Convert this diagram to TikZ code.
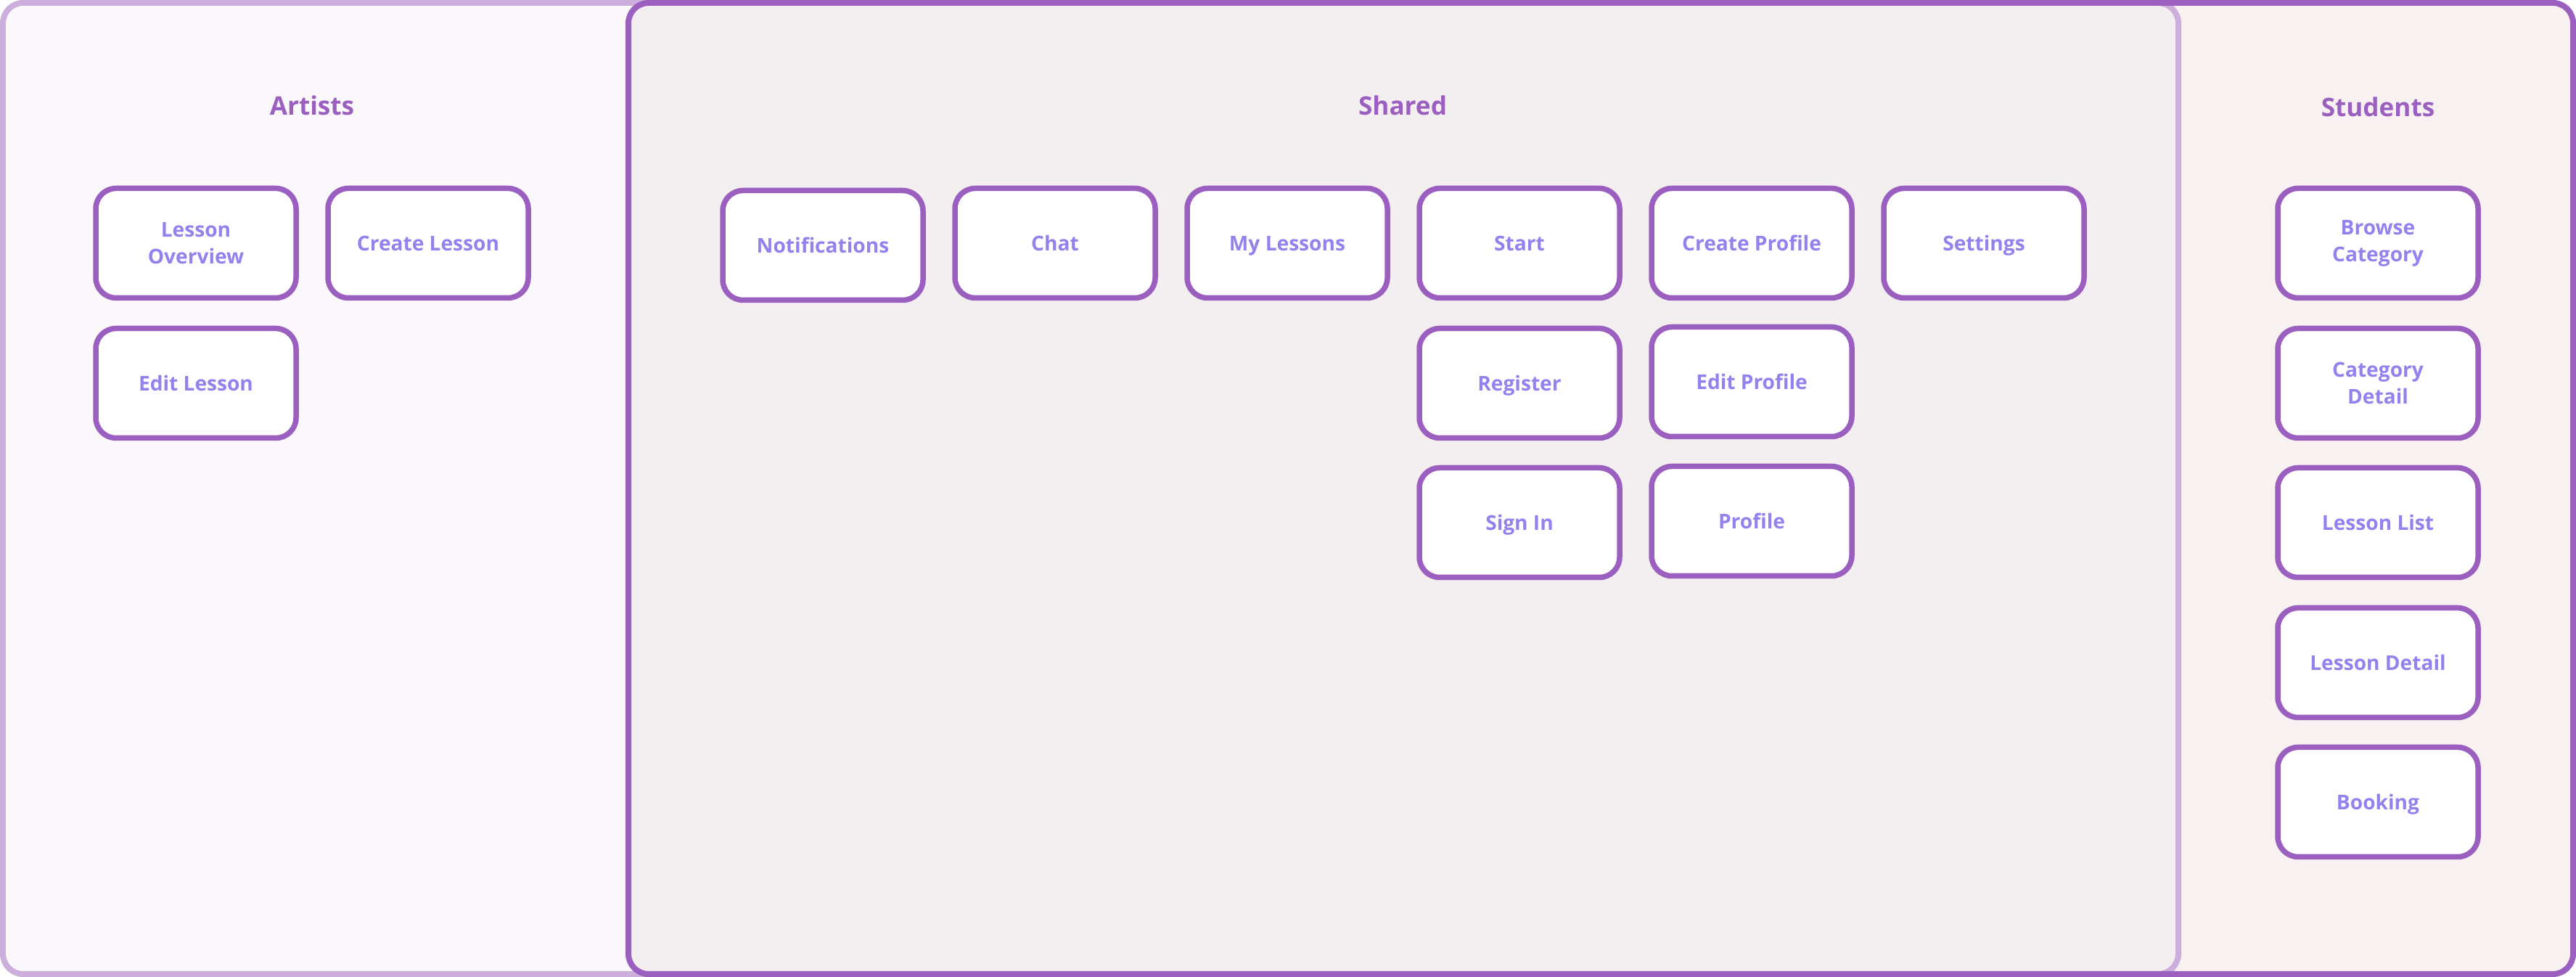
\documentclass[tikz,border=0pt]{standalone}
\usepackage{fontspec}
\setmainfont{Open Sans}
\definecolor{grpdark}{HTML}{9B5FC0}
\definecolor{grplight}{HTML}{CBAEDB}
\definecolor{screentext}{HTML}{9581EE}
\definecolor{artistsbg}{HTML}{FAF8FB}
\definecolor{studentsbg}{HTML}{F7F2F1}
\definecolor{sharedbg}{HTML}{F3EEEF}

\begin{document}
\begin{tikzpicture}[
    x=1cm,
    y=1cm,
    screen/.style={draw=grpdark, fill=white, line width=0.075cm, rounded corners=0.28cm, align=center, minimum width=2.76cm, minimum height=1.51cm, inner sep=2pt, text=screentext, font=\fontsize{8}{10.5}\selectfont\bfseries, text height=1.55ex, text depth=0.45ex},
    twoline/.style={text height={}, text depth={}},
    group/.style={text=grpdark, font=\fontsize{10}{12}\selectfont\bfseries},
    area/.style={rounded corners=0.28cm, line width=0.08cm}
]
\useasboundingbox (0,0) rectangle (35.5,13.46);

% artists and students areas, shared is where they overlap
\fill[artistsbg, rounded corners=0.28cm] (0.04,0.04) rectangle (30.02,13.42);
\fill[studentsbg, rounded corners=0.28cm] (8.66,0.04) rectangle (35.46,13.42);
\begin{scope}
\clip[rounded corners=0.28cm] (0.04,0.04) rectangle (30.02,13.42);
\fill[sharedbg, rounded corners=0.28cm] (8.66,0.04) rectangle (35.46,13.42);
\end{scope}
\draw[area, draw=grplight] (0.04,0.04) rectangle (30.02,13.42);
\draw[area, draw=grpdark] (8.66,0.04) rectangle (35.46,13.42);

\node[group] (artists) at (4.30,12.01) {Artists};
\node[group] (shared) at (19.33,12.01) {Shared};
\node[group] (students) at (32.77,11.99) {Students};

\node[screen, twoline] (lessonoverview) at (2.70,10.11) {Lesson\\Overview};
\node[screen] (createlesson) at (5.90,10.11) {Create Lesson};
\node[screen] (editlesson) at (2.70,8.18) {Edit Lesson};

\node[screen] (notifications) at (11.34,10.08) {Notifications};
\node[screen] (chat) at (14.54,10.11) {Chat};
\node[screen] (mylessons) at (17.74,10.11) {My Lessons};
\node[screen] (start) at (20.94,10.11) {Start};
\node[screen] (createprofile) at (24.14,10.11) {Create Profile};
\node[screen] (settings) at (27.34,10.11) {Settings};
\node[screen] (register) at (20.94,8.18) {Register};
\node[screen] (editprofile) at (24.14,8.20) {Edit Profile};
\node[screen] (signin) at (20.94,6.26) {Sign In};
\node[screen] (profile) at (24.14,6.28) {Profile};

\node[screen, twoline] (browsecategory) at (32.77,10.11) {Browse\\Category};
\node[screen, twoline] (categorydetail) at (32.77,8.18) {Category\\Detail};
\node[screen] (lessonlist) at (32.77,6.26) {Lesson List};
\node[screen] (lessondetail) at (32.77,4.33) {Lesson Detail};
\node[screen] (booking) at (32.77,2.41) {Booking};
\end{tikzpicture}
\end{document}
